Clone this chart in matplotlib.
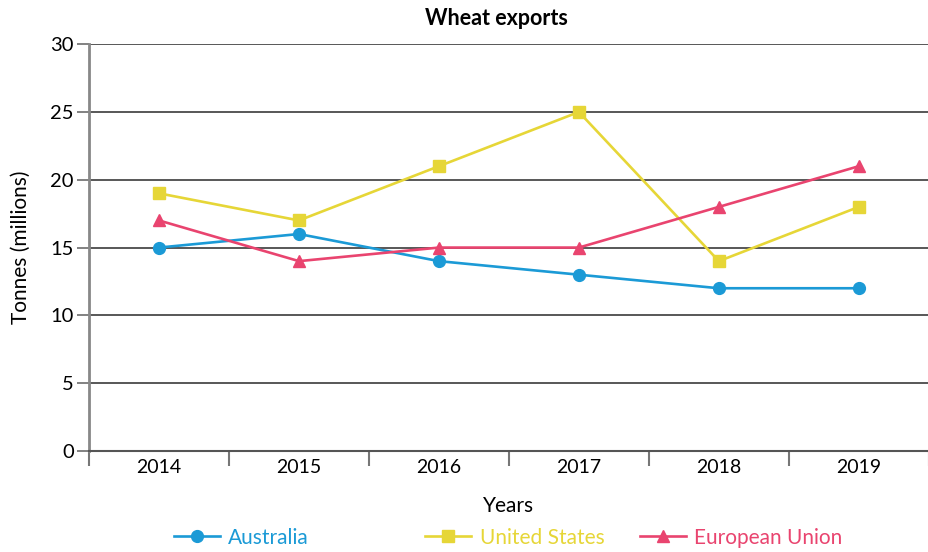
import matplotlib
matplotlib.use('Agg')
import matplotlib.pyplot as plt

plt.rcParams['font.family'] = ['Lato', 'DejaVu Sans']

years = ['2014', '2015', '2016', '2017', '2018', '2019']
australia = [15, 16, 14, 13, 12, 12]
united_states = [19, 17, 21, 25, 14, 18]
european_union = [17, 14, 15, 15, 18, 21]

c_aus = '#1b9ad6'
c_us = '#e6d637'
c_eu = '#e9446f'

fig = plt.figure(figsize=(9.29, 5.52), dpi=100)
ax = fig.add_axes([0.0958, 0.183, 0.904, 0.737])

x = list(range(len(years)))
l1, = ax.plot(x, australia, color=c_aus, lw=1.9, marker='o', ms=8.5, label='Australia')
l2, = ax.plot(x, united_states, color=c_us, lw=1.9, marker='s', ms=8, label='United States')
l3, = ax.plot(x, european_union, color=c_eu, lw=1.9, marker='^', ms=8.5, label='European Union')

ax.set_xlim(-0.5, 5.5)
ax.set_ylim(0, 30)
ax.set_yticks(range(0, 31, 5))
ax.yaxis.grid(True, color='#4a4a4a', lw=1.3)
ax.set_axisbelow(True)
ax.tick_params(axis='y', length=9, width=1.3, color='#777777', labelsize=14.5, pad=2)

# category boundaries get tick marks, labels sit in between
ax.set_xticks([i - 0.5 for i in range(len(years) + 1)])
ax.set_xticklabels([])
ax.set_xticks(x, minor=True)
ax.set_xticklabels(years, minor=True)
ax.tick_params(axis='x', which='major', length=11, width=1.5, color='#777777')
ax.tick_params(axis='x', which='minor', length=0, labelsize=14, pad=6)

for s in ['top', 'right']:
    ax.spines[s].set_visible(False)
ax.spines['left'].set_color('#888888')
ax.spines['left'].set_linewidth(2)
ax.spines['bottom'].set_color('#555555')
ax.spines['bottom'].set_linewidth(1.5)

ax.set_title('Wheat exports', fontsize=15.5, fontweight='bold', pad=14, x=0.485)
ax.set_xlabel('Years', fontsize=15, labelpad=14)
ax.set_ylabel('Tonnes (millions)', fontsize=15, labelpad=14)

# legend entries are spaced unevenly in the original, so one legend each
for line, c, lx in [(l1, c_aus, 0.187), (l2, c_us, 0.458), (l3, c_eu, 0.689)]:
    leg = fig.legend(handles=[line], loc='center left', bbox_to_anchor=(lx, 0.026),
                     frameon=False, fontsize=15, handlelength=2.2, handletextpad=0.4,
                     borderaxespad=0, borderpad=0)
    leg.get_texts()[0].set_color(c)

fig.savefig('out.png', dpi=100)
